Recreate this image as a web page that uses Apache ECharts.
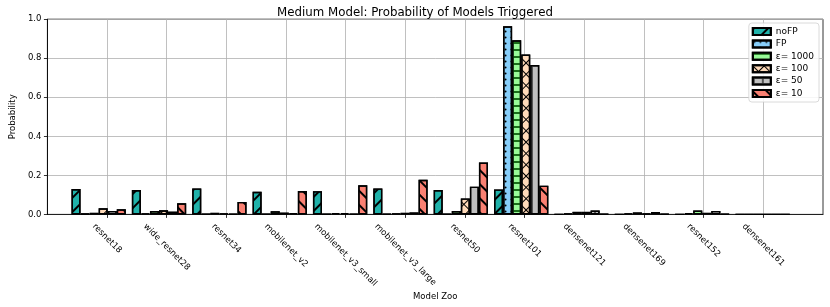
<!DOCTYPE html>
<html>
<head>
<meta charset="utf-8">
<script src="https://cdn.jsdelivr.net/npm/echarts@6/dist/echarts.min.js"></script>
<style>html,body{margin:0;padding:0;background:#fff}#c{width:830px;height:307px}</style>
</head>
<body>
<div id="c"></div>
<script>
const categories = ['resnet18','wide_resnet28','resnet34','mobilenet_v2','mobilenet_v3_small','mobilenet_v3_large','resnet50','resnet101','densenet121','densenet169','resnet152','densenet161'];
const seriesNames = ['noFP','FP','ε= 1000','ε= 100','ε= 50','ε= 10'];
const noFP    = [0.130,0.125,0.133,0.116,0.119,0.133,0.125,0.128,0,0,0,0];
const FP      = [0.004,0.005,0.003,0.003,0.001,0.003,0.002,0.964,0.005,0.005,0.007,0];
const eps1000 = [0.008,0.017,0.008,0.016,0.007,0.005,0.017,0.892,0.013,0.010,0.020,0];
const eps100  = [0.031,0.021,0.005,0.009,0.007,0.008,0.082,0.819,0.013,0.004,0.008,0];
const eps50   = [0.018,0.014,0.003,0.006,0.003,0.010,0.142,0.765,0.020,0.012,0.018,0];
const eps10   = [0.026,0.057,0.064,0.120,0.149,0.177,0.266,0.147,0.003,0.002,0.003,0];

const FONT = 'DejaVu Sans';
const colors = ['#20b2aa','#87cefa','#98fb98','#ffdab9','#c0c0c0','#fa8072'];
const decals = [
  {symbol:'rect', symbolSize:1, color:'#000', dashArrayX:[1,0], dashArrayY:[1.1,7.4], rotation:-Math.PI/4},
  {symbol:'circle', symbolSize:0.7, color:'#000', dashArrayX:[3,3], dashArrayY:[3,3], rotation:0},
  {symbol:'rect', symbolSize:1, color:'#1a6e1a', dashArrayX:[1,0], dashArrayY:[1.2,4.8], rotation:0},
  {symbol:'rect', symbolSize:1, color:'#000', dashArrayX:[[8,0],[1,7]], dashArrayY:[1,0,7,0], rotation:Math.PI/4},
  {symbol:'rect', symbolSize:1, color:'#555', dashArrayX:[1.2,6.8], dashArrayY:[1,0], rotation:0},
  {symbol:'rect', symbolSize:1, color:'#000', dashArrayX:[1,0], dashArrayY:[1.1,7.4], rotation:Math.PI/4}
];
const allData = [noFP, FP, eps1000, eps100, eps50, eps10];
const idx = categories.map((c,i)=>i);

// frame grid spans x in [-1, 12]; bar grid spans [-0.5, 11.5] so category bands sit on integer ticks
const FL = 38.3, FR = 823, W = 830;
const unit = (FR - FL) / 13;
const BL = FL + 0.5*unit, BR = FL + 12.5*unit;
const TF = 8.5;

const chart = echarts.init(document.getElementById('c'), null, {renderer:'canvas'});
const series = allData.map((arr,k)=>({
  name: seriesNames[k], type:'bar', xAxisIndex:1, yAxisIndex:1,
  data: arr,
  barWidth: 0.15*unit, barGap:'0%',
  itemStyle:{color:colors[k], borderColor:'#000', borderWidth:1.4, decal:decals[k]},
  emphasis:{disabled:true}
}));
const gTop = 19.2, gBottom = 92.6;
chart.setOption({
  animation:false,
  backgroundColor:'#fff',
  title:{text:'Medium Model: Probability of Models Triggered', left:'center', top:2,
    textStyle:{fontFamily:FONT, fontSize:11.8, fontWeight:'normal', color:'#000'}},
  grid:[
    {left:FL, right:W-FR, top:gTop, bottom:gBottom, show:true, borderColor:'#000', borderWidth:0.8, backgroundColor:'transparent'},
    {left:BL, right:W-BR, top:gTop, bottom:gBottom}
  ],
  legend:{orient:'vertical', right:11, top:23, itemWidth:18, itemHeight:7, itemGap:3.4, icon:'rect',
    backgroundColor:'rgba(255,255,255,0.85)', borderColor:'#d0d0d0', borderWidth:0.8, borderRadius:3, padding:[4,5,4,3],
    textStyle:{fontFamily:FONT, fontSize:9, color:'#000', lineHeight:9}, data:seriesNames},
  xAxis:[
    {type:'value', gridIndex:0, min:-1, max:12, interval:1,
     name:'Model Zoo', nameLocation:'middle', nameGap:77.5, nameTextStyle:{fontFamily:FONT, fontSize:TF, color:'#000'},
     axisLine:{show:true, onZero:false, lineStyle:{color:'#000', width:0.8}},
     axisTick:{show:true, inside:false, length:3.5, customValues:idx, lineStyle:{color:'#000', width:0.8}},
     axisLabel:{show:false},
     splitLine:{show:true, lineStyle:{color:'#b0b0b0', width:0.8}}},
    {type:'category', gridIndex:1, data:categories, show:false}
  ],
  yAxis:[
    {type:'value', gridIndex:0, min:0, max:1, interval:0.2,
     name:'Probability', nameLocation:'middle', nameGap:26, nameRotate:90, nameTextStyle:{fontFamily:FONT, fontSize:TF, color:'#000'},
     axisLine:{show:true, onZero:false, lineStyle:{color:'#000', width:0.8}},
     axisTick:{show:true, length:3.5, lineStyle:{color:'#000', width:0.8}},
     axisLabel:{fontFamily:FONT, fontSize:TF, color:'#000', margin:6, formatter:v=>v.toFixed(1)},
     splitLine:{show:true, lineStyle:{color:'#b0b0b0', width:0.8}}},
    {type:'value', gridIndex:1, min:0, max:1, show:false, splitLine:{show:false}}
  ],
  series: series
});

// rotated category labels, bbox centred under each tick (positions from the axis scale)
const ctx = document.createElement('canvas').getContext('2d');
ctx.font = TF + 'px "' + FONT + '"';
const y0 = chart.convertToPixel({yAxisIndex:0}, 0);
const gtext = categories.map((name,i)=>{
  const px = chart.convertToPixel({xAxisIndex:0}, i);
  const L = ctx.measureText(name).width;
  const H = (L + TF*1.1) * Math.SQRT1_2;
  return {type:'text', x:px, y:y0 + 7.5 + H/2, rotation:-Math.PI/4, silent:true,
    style:{text:name, font:TF+'px "'+FONT+'"', fill:'#000', align:'center', verticalAlign:'middle'}};
});
chart.setOption({graphic:gtext});
</script>
</body>
</html>
